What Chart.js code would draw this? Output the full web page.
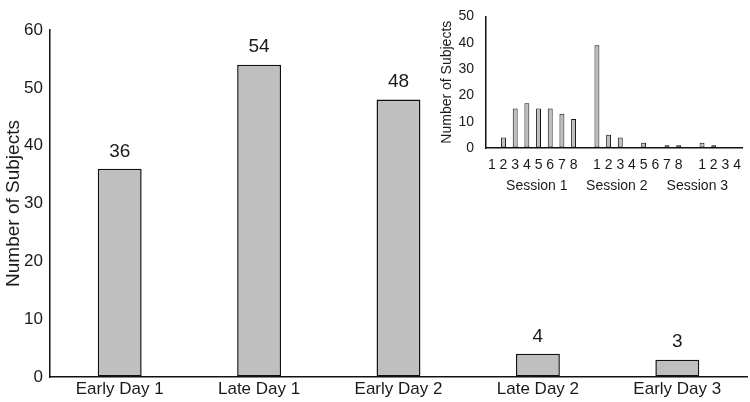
<!DOCTYPE html>
<html>
<head>
<meta charset="utf-8">
<script src="https://cdn.jsdelivr.net/npm/chart.js@4.4.0/dist/chart.umd.min.js"></script>
<style>
  body { margin: 0; background: #fff; }
  #wrap { position: relative; width: 750px; height: 402px; }
  #main { position: absolute; left: 0; top: 0; }
  #inset { position: absolute; left: 420px; top: -4px; }
</style>
</head>
<body>
<div id="wrap">
  <canvas id="main" width="750" height="402"></canvas>
  <canvas id="inset" width="330" height="204"></canvas>
</div>
<script>
// Main chart data
const periods = ['Early Day 1', 'Late Day 1', 'Early Day 2', 'Late Day 2', 'Early Day 3'];
const subjects = [36, 54, 48, 4, 3];
const mainTicks = [0, 10, 20, 30, 40, 50, 60];

// Inset data (sessions split by blank slots)
const sessionSlots = ['1', '2', '3', '4', '5', '6', '7', '8', '',
                      '1', '2', '3', '4', '5', '6', '7', '8', '',
                      '1', '2', '3', '4'];
const sessionCounts = [0, 4, 15, 17, 15, 15, 13, 11, null,
                       39, 5, 4, 0, 2, 0, 1, 1, null,
                       2, 1, 0, 0];
const sessionNames = ['Session 1', 'Session 2', 'Session 3'];
const sessionLabelAt = [3.85, 10.7, 17.6];

const FONT = '"Liberation Sans", Arial, sans-serif';
const TEXT = '#1a1a1a';
const BAR_FILL = '#bfbfbf';

// Draw numbers above the main bars
const valueLabels = {
    id: 'valueLabels',
    afterDatasetsDraw(chart) {
        const ctx = chart.ctx;
        const meta = chart.getDatasetMeta(0);
        ctx.save();
        ctx.font = '19px ' + FONT;
        ctx.fillStyle = TEXT;
        ctx.textAlign = 'center';
        ctx.textBaseline = 'bottom';
        meta.data.forEach(function(bar, i) {
            ctx.fillText(String(subjects[i]), bar.x, bar.y - 8);
        });
        ctx.restore();
    }
};

// Session group names under the inset axis
const sessionLabels = {
    id: 'sessionLabels',
    afterDraw(chart) {
        const ctx = chart.ctx;
        const x = chart.scales.x;
        ctx.save();
        ctx.font = '14px ' + FONT;
        ctx.fillStyle = TEXT;
        ctx.textAlign = 'center';
        ctx.textBaseline = 'middle';
        sessionNames.forEach(function(name, i) {
            ctx.fillText(name, x.getPixelForValue(sessionLabelAt[i]), chart.chartArea.bottom + 38);
        });
        ctx.restore();
    }
};

new Chart(document.getElementById('main'), {
    type: 'bar',
    data: {
        labels: periods,
        datasets: [{
            data: subjects,
            backgroundColor: BAR_FILL,
            borderColor: '#111',
            borderWidth: 1.5,
            borderSkipped: false,
            categoryPercentage: 1,
            barPercentage: 0.315
        }]
    },
    options: {
        responsive: false,
        animation: false,
        layout: { padding: { top: 30, right: 3, bottom: 0, left: 0 } },
        plugins: { legend: { display: false }, tooltip: { enabled: false } },
        scales: {
            x: {
                grid: { drawOnChartArea: false, drawTicks: false },
                border: { color: '#111', width: 1.5 },
                ticks: { color: TEXT, font: { family: FONT, size: 17 }, padding: 2, maxRotation: 0 },
                afterFit(scale) { scale.height = 25; }
            },
            y: {
                min: 0,
                max: 60,
                afterBuildTicks(scale) { scale.ticks = mainTicks.map(v => ({ value: v })); },
                grid: { drawOnChartArea: false, drawTicks: false },
                border: { color: '#111', width: 1.5 },
                ticks: { color: TEXT, font: { family: FONT, size: 17 }, padding: 7 },
                title: {
                    display: true,
                    text: 'Number of Subjects',
                    color: TEXT,
                    font: { family: FONT, size: 19 },
                    padding: { top: 2, bottom: 0 }
                },
                afterFit(scale) { scale.width = 50; }
            }
        }
    },
    plugins: [valueLabels]
});

new Chart(document.getElementById('inset'), {
    type: 'bar',
    data: {
        labels: sessionSlots,
        datasets: [{
            data: sessionCounts,
            backgroundColor: BAR_FILL,
            borderColor: '#111',
            borderWidth: c => (c.raw ? 1 : 0),
            borderSkipped: false,
            categoryPercentage: 1,
            barPercentage: 0.42
        }]
    },
    options: {
        responsive: false,
        animation: false,
        layout: { padding: { top: 10, right: 2, bottom: 0, left: 0 } },
        plugins: { legend: { display: false }, tooltip: { enabled: false } },
        scales: {
            x: {
                grid: { drawOnChartArea: false, drawTicks: false },
                border: { color: '#111', width: 1.5 },
                ticks: { color: TEXT, font: { family: FONT, size: 14 }, padding: 9, maxRotation: 0, autoSkip: false },
                afterFit(scale) { scale.height = 52; }
            },
            y: {
                min: 0,
                max: 50,
                ticks: { stepSize: 10, color: TEXT, font: { family: FONT, size: 14 }, padding: 12 },
                grid: { drawOnChartArea: false, drawTicks: false },
                border: { color: '#111', width: 1.5 },
                title: {
                    display: true,
                    text: 'Number of Subjects',
                    color: TEXT,
                    font: { family: FONT, size: 14 },
                    padding: { top: 19, bottom: 0 }
                },
                afterFit(scale) { scale.width = 66; }
            }
        }
    },
    plugins: [sessionLabels]
});
</script>
</body>
</html>
